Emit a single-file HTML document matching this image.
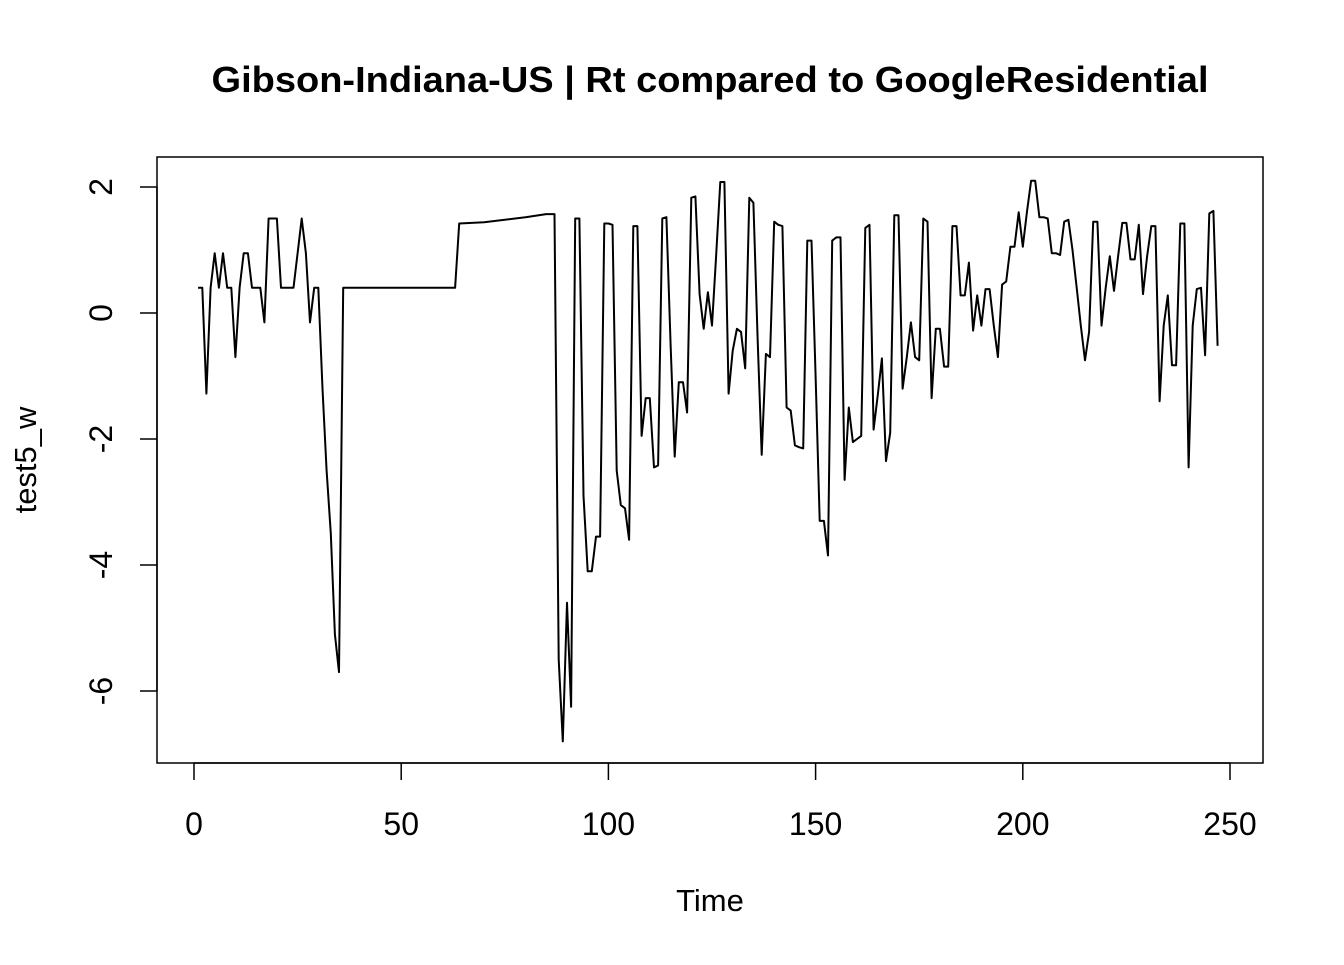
<!DOCTYPE html>
<html><head><meta charset="utf-8"><style>
body{margin:0;background:#fff}
svg text{font-family:"Liberation Sans",Arial,sans-serif;fill:#000}
</style></head><body>
<svg id="chart" width="1344" height="960" viewBox="0 0 1344 960" xmlns="http://www.w3.org/2000/svg">
<rect width="1344" height="960" fill="#fff"/>
<text x="710" y="92" font-size="36" font-weight="bold" text-anchor="middle" textLength="997" lengthAdjust="spacingAndGlyphs">Gibson-Indiana-US | Rt compared to GoogleResidential</text>
<rect x="157" y="157" width="1106" height="606" fill="none" stroke="#000" stroke-width="1.5"/>
<text x="710" y="911" font-size="31" text-anchor="middle">Time</text>
<text transform="translate(36,460) rotate(-90)" font-size="31" text-anchor="middle">test5_w</text>
<g id="axes"></g>
<path id="series" fill="none" stroke="#000" stroke-width="2" stroke-linejoin="round"/>
</svg>
<script>
const xTicks=[0,50,100,150,200,250];
const yTicks=[2,0,-2,-4,-6];
const times=[1,2,3,4,5,6,7,8,9,10,11,12,13,14,15,16,17,18,19,20,21,22,23,24,25,26,27,28,29,30,31,32,33,34,35,36,63,64,70,80,85,87,88,89,90,91,92,93,94,95,96,97,98,99,100,101,102,103,104,105,106,107,108,109,110,111,112,113,114,115,116,117,118,119,120,121,122,123,124,125,126,127,128,129,130,131,132,133,134,135,136,137,138,139,140,141,142,143,144,145,146,147,148,149,150,151,152,153,154,155,156,157,158,159,160,161,162,163,164,165,166,167,168,169,170,171,172,173,174,175,176,177,178,179,180,181,182,183,184,185,186,187,188,189,190,191,192,193,194,195,196,197,198,199,200,201,202,203,204,205,206,207,208,209,210,211,212,213,214,215,216,217,218,219,220,221,222,223,224,225,226,227,228,229,230,231,232,233,234,235,236,237,238,239,240,241,242,243,244,245,246,247,248,249];
const values=[0.4,0.4,-1.28,0.4,0.95,0.4,0.95,0.4,0.4,-0.7,0.4,0.95,0.95,0.4,0.4,0.4,-0.15,1.5,1.5,1.5,0.4,0.4,0.4,0.4,0.95,1.5,0.95,-0.15,0.4,0.4,-1.2,-2.5,-3.5,-5.1,-5.7,0.4,0.4,1.42,1.44,1.52,1.57,1.57,-5.5,-6.8,-4.6,-6.25,1.5,1.5,-2.9,-4.1,-4.1,-3.55,-3.55,1.42,1.42,1.4,-2.5,-3.05,-3.1,-3.6,1.38,1.38,-1.95,-1.35,-1.35,-2.45,-2.42,1.5,1.52,-0.5,-2.28,-1.1,-1.1,-1.58,1.83,1.85,0.3,-0.25,0.33,-0.2,0.9,2.08,2.08,-1.28,-0.6,-0.25,-0.3,-0.88,1.83,1.75,-0.4,-2.25,-0.65,-0.7,1.45,1.4,1.38,-1.5,-1.55,-2.1,-2.13,-2.15,1.15,1.15,-1.0,-3.3,-3.3,-3.85,1.15,1.2,1.2,-2.65,-1.5,-2.05,-2.0,-1.95,1.35,1.4,-1.85,-1.3,-0.72,-2.35,-1.9,1.55,1.55,-1.2,-0.7,-0.15,-0.7,-0.75,1.5,1.45,-1.35,-0.25,-0.25,-0.85,-0.85,1.38,1.38,0.28,0.28,0.8,-0.28,0.28,-0.2,0.38,0.38,-0.2,-0.7,0.45,0.5,1.05,1.05,1.6,1.05,1.6,2.1,2.1,1.52,1.52,1.5,0.95,0.95,0.92,1.45,1.48,1.0,0.4,-0.2,-0.75,-0.3,1.45,1.45,-0.2,0.4,0.9,0.35,0.9,1.43,1.43,0.85,0.85,1.4,0.3,0.9,1.38,1.38,-1.4,-0.2,0.28,-0.83,-0.83,1.42,1.42,-2.45,-0.2,0.38,0.4,-0.67,1.58,1.62,-0.52];
const xs=t=>194+(t)*(1230-194)/250;
const ys=v=>313-v*63;
const NS='http://www.w3.org/2000/svg';
const ax=document.getElementById('axes');
function el(tag,attrs){const e=document.createElementNS(NS,tag);for(const k in attrs)e.setAttribute(k,attrs[k]);ax.appendChild(e);return e;}
const xl=el('line',{x1:xs(0),x2:xs(250),y1:763,y2:763,stroke:'#000','stroke-width':1.5});


xTicks.forEach(t=>{
  const tk=el('line',{x1:xs(t),x2:xs(t),y1:763,y2:780,stroke:'#000','stroke-width':1.5});
  
  
  const tx=el('text',{x:xs(t),y:835,'font-size':32,'text-anchor':'middle'});
  tx.textContent=t;
  
  
});
const yl=el('line',{x1:157,x2:157,y1:ys(2),y2:ys(-6),stroke:'#000','stroke-width':1.5});


yTicks.forEach(v=>{
  const tk=el('line',{x1:140,x2:157,y1:ys(v),y2:ys(v),stroke:'#000','stroke-width':1.5});
  
  
  const tx=el('text',{transform:`translate(112,${ys(v)}) rotate(-90)`,'font-size':32,'text-anchor':'middle'});
  tx.textContent=v;
  
  
});
let d='';
times.forEach((t,i)=>{d+=(i?'L':'M')+xs(t).toFixed(1)+','+ys(values[i]).toFixed(1);});
document.getElementById('series').setAttribute('d',d);
</script>
</body></html>
